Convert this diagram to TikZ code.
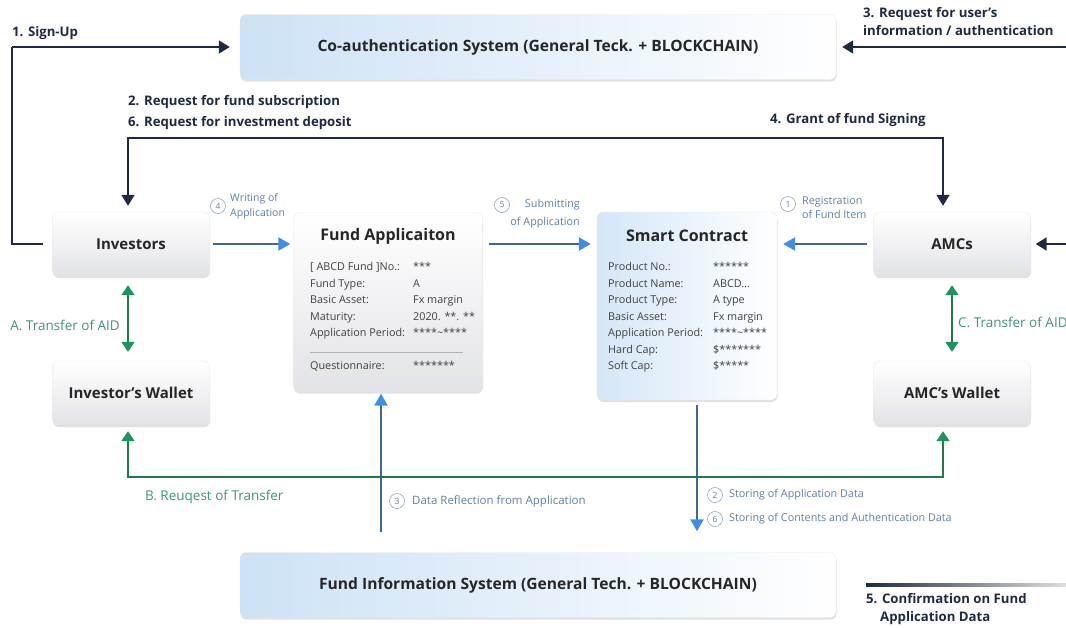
\documentclass[tikz,border=0pt]{standalone}
\usepackage{fontspec}
\setmainfont{Open Sans}
\usepackage{xcolor}
\usetikzlibrary{arrows.meta}
\usetikzlibrary{shadows}
\definecolor{navy}{HTML}{1E2A44}
\definecolor{flowblue}{HTML}{3F6897}
\definecolor{tipblue}{HTML}{3C8EE6}
\definecolor{flowgreen}{HTML}{23774F}
\definecolor{tipgreen}{HTML}{1C9460}
\definecolor{txtgreen}{HTML}{3A9676}
\definecolor{txtblue}{HTML}{5D7FA6}
\definecolor{boxgray}{HTML}{E2E3E7}
\definecolor{sysblue}{HTML}{CDE2F6}

\tikzset{
  actor/.style = {rounded corners = 6pt, draw = gray!18, top color = white, bottom color = boxgray,
    minimum width = 157pt, minimum height = 64pt, text = black!85,
    drop shadow = {shadow xshift = .5pt, shadow yshift = -2pt, opacity = .35, fill = gray!70},
    font = \bfseries\fontsize{15}{16}\selectfont},
  sysbox/.style = {actor, left color = sysblue, right color = white,
    minimum width = 596pt, minimum height = 65pt, font = \bfseries\fontsize{15.6}{18}\selectfont},
  card/.style = {actor, minimum width = 189pt, minimum height = 179pt},
  cardtitle/.style = {inner sep = 0, text = black!85, font = \bfseries\fontsize{16}{18}\selectfont},
  rows/.style = {inner sep = 0, anchor = north west, text = black!75, font = \fontsize{10.8}{16.5}\selectfont},
  navyarrow/.style = {draw = navy, line width = 2pt, -{Triangle[length = 11pt, width = 13pt]}},
  bluearrow/.style = {draw = flowblue, line width = 2.4pt, -{Triangle[length = 12pt, width = 13pt, color = tipblue]}},
  greenarrow/.style = {draw = flowgreen, line width = 2pt, -{Triangle[length = 10pt, width = 13pt, color = tipgreen]}},
  greenboth/.style = {greenarrow, {Triangle[length = 10pt, width = 13pt, color = tipgreen]}-{Triangle[length = 10pt, width = 13pt, color = tipgreen]}},
  stepnum/.style = {circle, draw = txtblue!70, line width = .6pt, inner sep = 0, minimum size = 15pt,
    text = txtblue, font = \fontsize{8.5}{8.5}\selectfont},
  steptext/.style = {inner sep = 0, align = left, anchor = west, text = txtblue, font = \fontsize{10.8}{14}\selectfont},
  flowlabel/.style = {inner sep = 0, anchor = west, text = navy, font = \bfseries\fontsize{13.2}{18}\selectfont},
  aidlabel/.style = {inner sep = 0, text = txtgreen, font = \fontsize{13.5}{15}\selectfont}
}

\begin{document}
\begin{tikzpicture}[x = 1pt, y = -1pt]
  \useasboundingbox (0, 0) rectangle (1066, 627);

  \node[sysbox] (coauth) at (538, 47) {Co-authentication System (General Teck. + BLOCKCHAIN)};
  \node[sysbox] (finfo) at (538, 585) {Fund Information System (General Tech. + BLOCKCHAIN)};

  \node[actor] (inv) at (131, 244) {Investors};
  \node[actor] (invw) at (131, 393) {Investor's Wallet};
  \node[actor] (amc) at (952, 244) {AMCs};
  \node[actor] (amcw) at (952, 393) {AMC's Wallet};

  \node[card] (fapp) at (388, 302) {};
  \node[cardtitle] (fapptitle) at (388, 236) {Fund Applicaiton};
  \node[rows] (fapprows) at (310, 259) {\begin{tabular}{@{}p{103pt}@{}l@{}}
    [ ABCD Fund ]No.: & *** \\
    Fund Type: & A \\
    Basic Asset: & Fx margin \\
    Maturity: & 2020. **. ** \\
    Application Period: & ****\textasciitilde**** \\
    & \\
    Questionnaire: & *******
  \end{tabular}};
  \draw[gray!60, line width = .6pt] (310, 352) -- (463, 352);

  \node[card, left color = sysblue!85, right color = white, minimum width = 180pt, minimum height = 188pt] (scon) at (687, 306) {};
  \node[cardtitle] (scontitle) at (687, 236) {Smart Contract};
  \node[rows] (sconrows) at (608, 259) {\begin{tabular}{@{}p{105pt}@{}l@{}}
    Product No.: & ****** \\
    Product Name: & ABCD... \\
    Product Type: & A type \\
    Basic Asset: & Fx margin \\
    Application Period: & ****\textasciitilde**** \\
    Hard Cap: & \$******* \\
    Soft Cap: & \$*****
  \end{tabular}};

  \coordinate (su) at (12, 47);
  \draw[navy, line width = 1.6pt, shorten < = 9pt] (inv.west) -| (su);
  \draw[navyarrow, shorten > = 10pt] (su) -- (coauth.west);
  \node[flowlabel] (l1) at (12, 33) {1. Sign-Up};

  \coordinate (rq) at (540, 138);
  \draw[navyarrow, shorten > = 6pt] (rq) -| ([xshift = -3pt]inv.north);
  \draw[navyarrow, shorten > = 6pt] (rq) -| ([xshift = -9pt]amc.north);
  \node[flowlabel] (l2) at (128, 102) {2. Request for fund subscription};
  \node[flowlabel] (l6) at (128, 123) {6. Request for investment deposit};
  \node[flowlabel] (l4) at (770, 120) {4. Grant of fund Signing};

  \coordinate (ua) at (1066, 47);
  \draw[navyarrow, shorten > = 6pt] (ua) -- (coauth.east);
  \node[flowlabel, anchor = north west, align = left] (l3) at (863, 7) {3. Request for user's\\information / authentication};

  \coordinate (am) at (1066, 244);
  \draw[navyarrow, shorten > = 5pt] (am) -- (amc.east);

  \draw[bluearrow, shorten < = 3pt, shorten > = 3pt] (inv.east) -- (inv.east -| fapp.west);
  \draw[bluearrow, shorten < = 6pt, shorten > = 6pt] (fapp.east |- inv.east) -- (scon.west |- inv.east);
  \draw[bluearrow, shorten < = 6pt, shorten > = 6pt] (amc.west) -- (scon.east |- amc.west);

  \node[stepnum] (s4) at (218, 206) {4};
  \node[steptext, font = \fontsize{10.5}{15}\selectfont] (t4) at (230, 206) {Writing of\\Application};
  \node[stepnum] (s5) at (502, 205) {5};
  \node[steptext, anchor = east, align = right, font = \fontsize{10.8}{18}\selectfont] (t5) at (580, 214) {Submitting\\of Application};
  \node[stepnum] (s1) at (788, 204) {1};
  \node[steptext] (t1) at (802, 208) {Registration\\of Fund Item};

  \coordinate (c3) at (381, 0);
  \draw[bluearrow, shorten < = 20pt, shorten > = 2pt] (finfo.north -| c3) -- (fapp.south -| c3);
  \node[stepnum] (s3) at (397, 501) {3};
  \node[steptext, font = \fontsize{11.5}{13}\selectfont] (t3) at (412, 501) {Data Reflection from Application};

  \coordinate (c2) at (697, 0);
  \draw[bluearrow, shorten < = 5pt, shorten > = 21pt] (scon.south -| c2) -- (finfo.north -| c2);
  \node[stepnum] (s2) at (715, 495) {2};
  \node[steptext] (t2) at (729, 495) {Storing of Application Data};
  \node[stepnum] (s6) at (715, 519) {6};
  \node[steptext] (t6) at (729, 519) {Storing of Contents and Authentication Data};

  \draw[greenboth, shorten < = 9pt, shorten > = 9pt] ([xshift = -3pt]inv.south) -- ([xshift = -3pt]invw.north);
  \node[aidlabel, anchor = east] (la) at (120, 325) {A. Transfer of AID};
  \draw[greenboth, shorten < = 9pt, shorten > = 9pt] (amc.south) -- (amcw.north);
  \node[aidlabel, anchor = west] (lc) at (958, 322) {C. Transfer of AID};

  \coordinate (gb) at (540, 477);
  \draw[greenarrow, shorten > = 6pt] (gb) -| ([xshift = -3pt]invw.south);
  \draw[greenarrow, shorten > = 6pt] (gb) -| ([xshift = -9pt]amcw.south);
  \node[aidlabel, anchor = west] (lb) at (145, 497) {B. Reuqest of Transfer};

  \shade[left color = navy, right color = gray!25] (866, 583.5) rectangle (1066, 586.5);
  \node[flowlabel, anchor = north west, align = left] (l5) at (866, 593) {5. Confirmation on Fund\\\hspace*{14pt}Application Data};
\end{tikzpicture}
\end{document}
